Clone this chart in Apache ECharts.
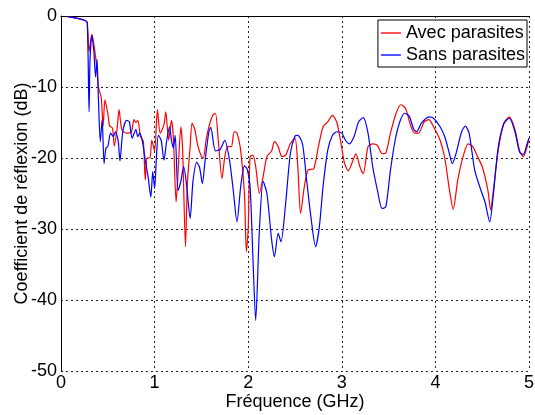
<!DOCTYPE html>
<html>
<head>
<meta charset="utf-8">
<script src="https://cdn.jsdelivr.net/npm/echarts@6/dist/echarts.min.js"></script>
<style>html,body{margin:0;padding:0;background:#fff;}#chart{width:535px;height:415px;}</style>
</head>
<body>
<div id="chart"></div>
<script>
var seriesNames = ['Avec parasites', 'Sans parasites'];
var xTicks = [0, 1, 2, 3, 4, 5];
var yTicks = [-50, -40, -30, -20, -10, 0];

var freqAvec = [0.07,0.12,0.2,0.25,0.28,0.30,0.33,0.36,0.38,0.40,0.43,0.45,0.47,0.50,0.52,0.55,0.57,0.60,0.62,0.65,0.70,0.75,0.78,0.80,0.82,0.85,0.88,0.90,0.92,0.95,0.97,1.00,1.03,1.06,1.10,1.12,1.15,1.18,1.20,1.23,1.25,1.28,1.30,1.33,1.35,1.38,1.40,1.43,1.46,1.50,1.52,1.55,1.58,1.62,1.65,1.68,1.72,1.75,1.78,1.82,1.85,1.88,1.92,1.96,1.98,2.00,2.02,2.05,2.08,2.12,2.16,2.20,2.25,2.28,2.32,2.36,2.40,2.45,2.50,2.53,2.56,2.60,2.64,2.70,2.75,2.80,2.85,2.90,2.95,3.00,3.03,3.07,3.12,3.15,3.20,3.23,3.28,3.33,3.38,3.43,3.47,3.52,3.58,3.63,3.68,3.74,3.78,3.82,3.88,3.93,3.98,4.05,4.10,4.15,4.19,4.24,4.30,4.35,4.40,4.45,4.50,4.56,4.59,4.62,4.67,4.73,4.79,4.85,4.90,4.94,4.98,5.00];
var dbAvec = [-0.1,-0.2,-0.4,-0.6,-0.9,-5,-2.6,-4.8,-7,-10,-11.5,-15.5,-11.8,-13.7,-15.5,-15.8,-18.3,-15.8,-13.2,-16,-16.5,-16.4,-14.6,-15,-14.7,-17,-17.7,-23.1,-20,-20,-17.5,-19,-13.2,-16.5,-15.3,-13.5,-17.5,-14.7,-17,-26.2,-22.2,-15.6,-19,-32.5,-23.6,-18.4,-15.1,-16,-18.2,-19.8,-20,-17.5,-15.6,-14,-13.7,-17.5,-22.9,-19.8,-18.4,-18.4,-16.3,-16.5,-19,-25,-33.2,-30,-19.8,-19.6,-21.2,-25,-22.6,-19.8,-19,-17.7,-18.4,-19.8,-19.6,-18,-17.2,-21.2,-27.8,-24,-21.7,-21.5,-18.4,-15.6,-14.9,-14,-15.1,-18.6,-20.8,-21.8,-20.3,-19.4,-21.5,-22.2,-18.4,-18,-18.2,-19.4,-19.3,-16.5,-13.7,-12.5,-13,-15.6,-16.5,-16.5,-14.9,-14.6,-15.6,-17.5,-20,-24.5,-27.2,-23,-19.6,-18,-18.4,-19.8,-21.2,-24.5,-27.3,-24.5,-19,-15.1,-14.2,-16,-19,-19.8,-18.4,-17.2];

var freqSans = [0.07,0.12,0.2,0.25,0.28,0.30,0.31,0.33,0.35,0.37,0.385,0.40,0.42,0.44,0.46,0.48,0.50,0.53,0.56,0.58,0.61,0.63,0.66,0.70,0.73,0.76,0.80,0.82,0.84,0.87,0.90,0.93,0.96,0.98,1.00,1.02,1.04,1.07,1.10,1.13,1.16,1.18,1.20,1.22,1.25,1.28,1.31,1.34,1.38,1.41,1.45,1.48,1.51,1.54,1.58,1.60,1.65,1.70,1.75,1.80,1.84,1.88,1.92,1.96,1.99,2.02,2.05,2.08,2.12,2.16,2.20,2.25,2.28,2.32,2.35,2.40,2.45,2.50,2.53,2.58,2.62,2.67,2.72,2.76,2.80,2.85,2.90,2.95,3.00,3.04,3.08,3.13,3.18,3.23,3.28,3.33,3.38,3.43,3.47,3.52,3.57,3.62,3.67,3.72,3.77,3.80,3.85,3.93,3.98,4.05,4.10,4.15,4.18,4.22,4.28,4.32,4.36,4.42,4.48,4.53,4.58,4.62,4.67,4.73,4.79,4.85,4.90,4.94,4.98,5.00];
var dbSans = [-0.1,-0.2,-0.4,-0.6,-0.9,-13.5,-6.2,-2.7,-4.8,-8.6,-6.1,-11.8,-17.7,-14.6,-20.8,-18.6,-18.4,-16.5,-17,-16.3,-17.5,-20.4,-16.3,-14.7,-14.9,-17.2,-16,-17,-16.5,-17.7,-20.3,-22.6,-25.5,-21.9,-24.3,-19.8,-16.8,-17.5,-20.3,-17.5,-15.6,-17.5,-18.6,-16.8,-24.6,-23.3,-21.2,-23.6,-28.5,-23.3,-20.6,-21.3,-23.6,-20.3,-16.3,-15.7,-19,-18.8,-17.5,-20.3,-24.5,-29,-24,-21.1,-21.6,-24,-33.9,-42.9,-30,-23.3,-25,-31.5,-33.9,-30.6,-31.8,-26.4,-19.4,-16.9,-16.8,-18,-22.6,-28.3,-32.5,-29.7,-24,-18.9,-16.8,-16.3,-16.5,-17.5,-18,-17,-14.9,-14.3,-16.5,-21.2,-24.5,-27.1,-26.9,-21.7,-17.5,-14.9,-13.7,-14.1,-16,-16.3,-15.1,-14.2,-14.4,-15.6,-17,-19.4,-20.8,-19.4,-16.3,-15.5,-16.5,-21.7,-24.3,-26.2,-29,-25,-18.6,-15.2,-14.4,-16.3,-19.2,-19.5,-18,-17.2];

function pairs(xs, ys) {
  var n = Math.min(xs.length, ys.length), out = [];
  for (var i = 0; i < n; i++) out.push([xs[i], ys[i]]);
  return out;
}

var FONT = '"Liberation Sans", Arial, sans-serif';
var chart = echarts.init(document.getElementById('chart'), null, {renderer: 'canvas'});
chart.setOption({
  animation: false,
  backgroundColor: '#ffffff',
  grid: {left: 61, right: 6, top: 16, bottom: 44, containLabel: false, outerBoundsMode: 'none'},
  legend: {
    right: 8, top: 20,
    orient: 'vertical',
    backgroundColor: '#ffffff',
    borderColor: '#000000', borderWidth: 1, borderRadius: 0,
    padding: [4, 2, 3, 3],
    icon: 'rect',
    itemWidth: 20, itemHeight: 2, itemGap: 4,
    textStyle: {fontFamily: FONT, fontSize: 18, color: '#000'},
    data: [
      {name: seriesNames[0], itemStyle: {color: '#ff5555'}},
      {name: seriesNames[1], itemStyle: {color: '#5555ff'}}
    ]
  },
  xAxis: {
    type: 'value', min: xTicks[0], max: xTicks[xTicks.length - 1], interval: 1,
    name: 'Fréquence (GHz)', nameLocation: 'middle', nameGap: 22, nameMoveOverlap: false,
    nameTextStyle: {fontFamily: FONT, fontSize: 18, color: '#000'},
    axisLine: {show: true, lineStyle: {color: '#000', width: 1}},
    axisTick: {show: false},
    axisLabel: {fontFamily: FONT, fontSize: 18, color: '#000', margin: 3},
    splitLine: {show: true, lineStyle: {color: '#222', type: [2, 3], width: 1}}
  },
  yAxis: {
    type: 'value', min: yTicks[0], max: yTicks[yTicks.length - 1], interval: 10,
    name: 'Coefficient de réflexion (dB)', nameLocation: 'middle', nameGap: 30, nameMoveOverlap: false,
    nameTextStyle: {fontFamily: FONT, fontSize: 18, color: '#000'},
    axisLine: {show: true, lineStyle: {color: '#000', width: 1}},
    axisTick: {show: false},
    axisLabel: {fontFamily: FONT, fontSize: 18, color: '#000', margin: 4},
    splitLine: {show: true, lineStyle: {color: '#222', type: [2, 3], width: 1}}
  },
  series: [
    {name: seriesNames[0], type: 'line', data: pairs(freqAvec, dbAvec), showSymbol: false, symbol: 'none',
     smooth: 0.25, lineStyle: {color: '#ff0000', width: 1.2}, itemStyle: {color: '#ff0000'}, z: 2},
    {name: seriesNames[1], type: 'line', data: pairs(freqSans, dbSans), showSymbol: false, symbol: 'none',
     smooth: 0.25, lineStyle: {color: '#0000ff', width: 1.2}, itemStyle: {color: '#0000ff'}, z: 3}
  ]
});
</script>
</body>
</html>
